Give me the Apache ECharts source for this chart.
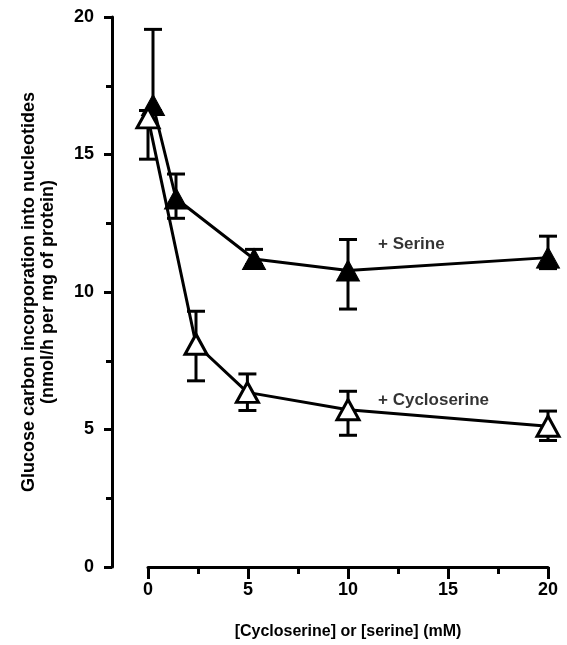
<!DOCTYPE html>
<html>
<head>
<meta charset="utf-8">
<script src="https://cdn.jsdelivr.net/npm/echarts@6/dist/echarts.min.js"></script>
<style>
html,body{margin:0;padding:0;background:#fff;}
#c{width:567px;height:645px;}
</style>
</head>
<body>
<div id="c"></div>
<script>
// ---- data ----
const serineX    = [0.25, 1.4, 5.3, 10, 20];
const serineY    = [16.8, 13.4, 11.2, 10.78, 11.25];
const serineLow  = [16.6, 12.68, 11.0, 9.38, 10.85];
const serineHigh = [19.55, 14.29, 11.55, 11.91, 12.03];

const cycloX    = [0, 2.4, 4.97, 10, 20];
const cycloY    = [16.33, 8.1, 6.35, 5.72, 5.12];
const cycloLow  = [14.83, 6.77, 5.69, 4.79, 4.6];
const cycloHigh = [16.6, 9.3, 7.02, 6.39, 5.67];

const xTicks = [0, 5, 10, 15, 20];
const yTicks = [0, 5, 10, 15, 20];

const annotations = [
  {name: '+ Serine', x: 11.5, y: 11.75},
  {name: '+ Cycloserine', x: 11.5, y: 6.05}
];

const FONT = '"Liberation Sans", Arial, Helvetica, sans-serif';

function pairs(xs, ys) { return xs.map((x, i) => [x, ys[i]]); }
function errData(xs, lo, hi) { return xs.map((x, i) => [x, lo[i], hi[i]]); }

function errRender(params, api) {
  const x = api.value(0);
  const lo = api.coord([x, api.value(1)]);
  const hi = api.coord([x, api.value(2)]);
  const cap = 9;
  const style = {stroke: '#000', lineWidth: 3, fill: null};
  return {
    type: 'group',
    children: [
      {type: 'line', shape: {x1: lo[0], y1: lo[1], x2: hi[0], y2: hi[1]}, style: style},
      {type: 'line', shape: {x1: lo[0] - cap, y1: lo[1], x2: lo[0] + cap, y2: lo[1]}, style: style},
      {type: 'line', shape: {x1: hi[0] - cap, y1: hi[1], x2: hi[0] + cap, y2: hi[1]}, style: style}
    ]
  };
}

const chart = echarts.init(document.getElementById('c'));
chart.setOption({
  animation: false,
  backgroundColor: '#fff',
  grid: {left: 148, right: 19, top: 17, bottom: 77, containLabel: false},
  xAxis: {
    type: 'value', min: 0, max: 20, interval: 5,
    axisLine: {show: true, onZero: false, lineStyle: {color: '#000', width: 3}},
    axisTick: {show: true, length: 12, lineStyle: {color: '#000', width: 3}},
    minorTick: {show: true, splitNumber: 2, length: 7, lineStyle: {color: '#000', width: 3}},
    splitLine: {show: false},
    axisLabel: {
      margin: 14, color: '#000', fontFamily: FONT, fontWeight: 'bold', fontSize: 18,
      customValues: xTicks
    },
    name: '[Cycloserine] or [serine] (mM)',
    nameLocation: 'middle', nameGap: 57,
    nameTextStyle: {color: '#000', fontFamily: FONT, fontWeight: 'bold', fontSize: 16}
  },
  yAxis: {
    type: 'value', min: 0, max: 20, interval: 5, offset: 36,
    axisLine: {show: true, onZero: false, lineStyle: {color: '#000', width: 3}},
    axisTick: {show: true, length: 8, lineStyle: {color: '#000', width: 3}},
    minorTick: {show: true, splitNumber: 2, length: 6, lineStyle: {color: '#000', width: 3}},
    splitLine: {show: false},
    axisLabel: {
      margin: 18, color: '#000', fontFamily: FONT, fontWeight: 'bold', fontSize: 18,
      customValues: yTicks
    },
    name: 'Glucose carbon incorporation into nucleotides\n(nmol/h per mg of protein)',
    nameLocation: 'middle', nameRotate: 90, nameGap: 54,
    nameTextStyle: {color: '#000', fontFamily: FONT, fontWeight: 'bold', fontSize: 18, lineHeight: 19, align: 'center'}
  },
  series: [
    {
      type: 'custom', name: 'serineErr', renderItem: errRender,
      data: errData(serineX, serineLow, serineHigh), clip: false, z: 1,
      encode: {x: 0, y: [1, 2]}
    },
    {
      type: 'line', name: '+ Serine', data: pairs(serineX, serineY), z: 2,
      symbol: 'triangle', symbolSize: [23, 21], showAllSymbol: true, clip: false,
      lineStyle: {color: '#000', width: 3},
      itemStyle: {color: '#000', borderColor: '#000', borderWidth: 1}
    },
    {
      type: 'custom', name: 'cycloErr', renderItem: errRender,
      data: errData(cycloX, cycloLow, cycloHigh), clip: false, z: 3,
      encode: {x: 0, y: [1, 2]}
    },
    {
      type: 'line', name: '+ Cycloserine', data: pairs(cycloX, cycloY), z: 4,
      symbol: 'triangle', symbolSize: [22, 20], showAllSymbol: true, clip: false,
      lineStyle: {color: '#000', width: 3},
      itemStyle: {color: '#fff', borderColor: '#000', borderWidth: 3}
    },
    {
      type: 'scatter', name: 'labels', z: 5, symbolSize: 0, silent: true,
      data: annotations.map(a => ({name: a.name, value: [a.x, a.y]})),
      label: {
        show: true, position: 'right', distance: 0, formatter: p => p.name,
        color: '#000', fontFamily: FONT, fontWeight: 'bold', fontSize: 17
      }
    }
  ]
});
</script>
</body>
</html>
